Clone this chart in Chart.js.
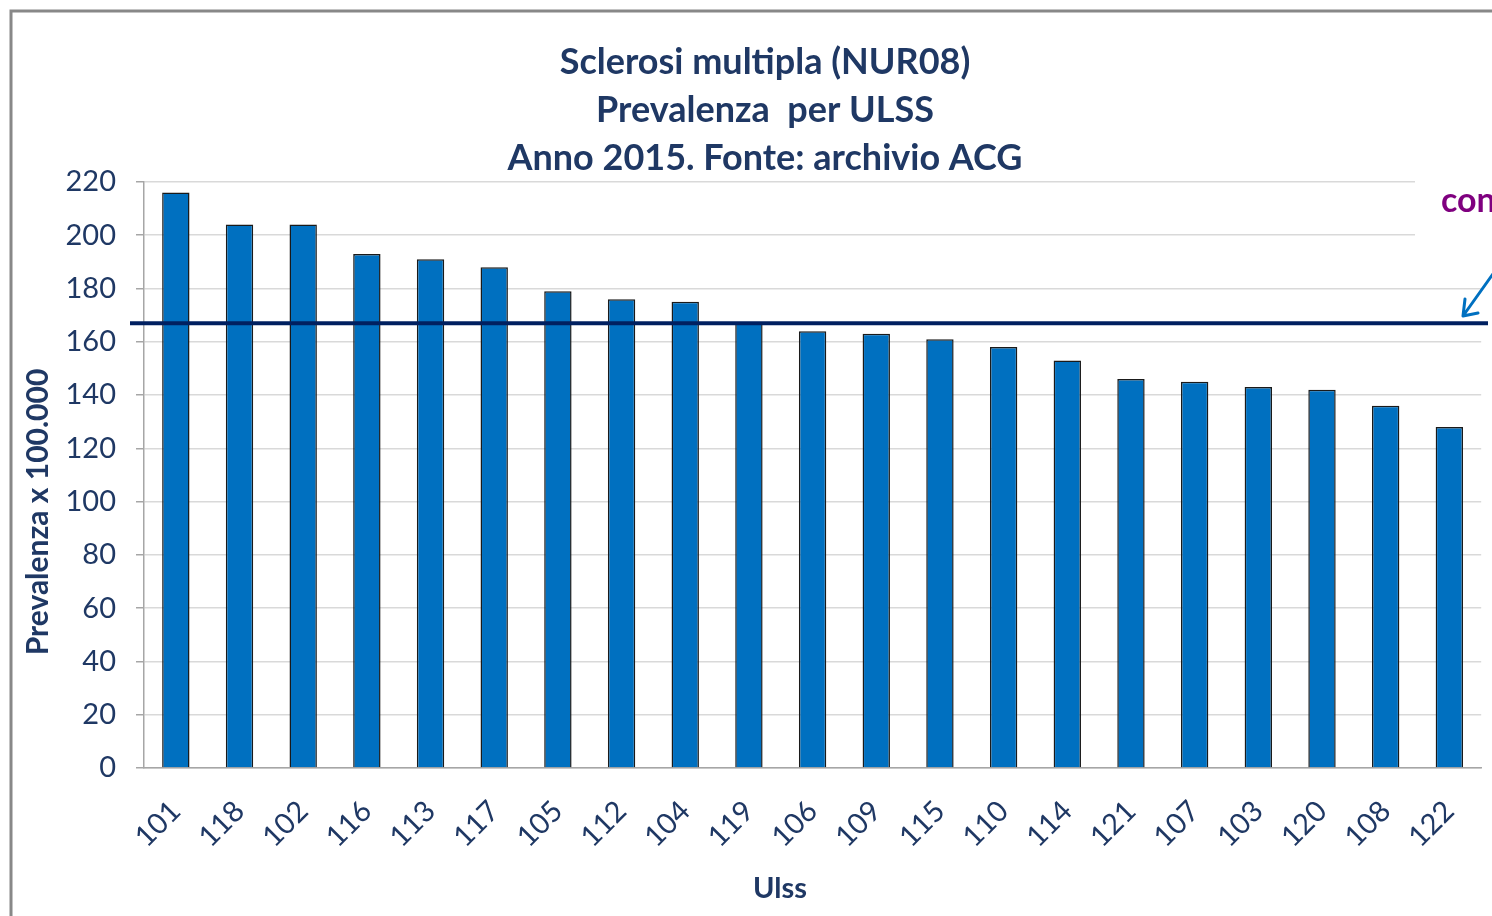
<!DOCTYPE html>
<html>
<head>
<meta charset="utf-8">
<script src="https://cdn.jsdelivr.net/npm/chart.js@4.4.1/dist/chart.umd.min.js"></script>
<style>
  body { margin: 0; background: #ffffff; }
  canvas { display: block; }
</style>
</head>
<body>
<canvas id="myChart" width="1492" height="916"></canvas>
<script>
// dati: prevalenza sclerosi multipla per ULSS
const ulss = ['101', '118', '102', '116', '113', '117', '105', '112', '104', '119', '106',
  '109', '115', '110', '114', '121', '107', '103', '120', '108', '122'];
const prevalenza = [216, 204, 204, 193, 191, 188, 179, 176, 175, 167, 164,
  163, 161, 158, 153, 146, 145, 143, 142, 136, 128];
const mediaRegione = 167;
const yTicks = [0, 20, 40, 60, 80, 100, 120, 140, 160, 180, 200, 220];
const titolo = ['Sclerosi multipla (NUR08)', 'Prevalenza  per ULSS', 'Anno 2015. Fonte: archivio ACG'];

const navy = '#1F3864';
const font = 'Lato';

// Cornice, linea di riferimento, freccia e titoli degli assi
const extras = {
  id: 'extras',
  afterDatasetsDraw(chart) {
    const ctx = chart.ctx;
    const y = chart.scales.y.getPixelForValue(mediaRegione);
    ctx.save();
    ctx.strokeStyle = '#002060';
    ctx.lineWidth = 4;
    ctx.beginPath();
    ctx.moveTo(130, y);
    ctx.lineTo(1488, y);
    ctx.stroke();
    ctx.restore();
  },
  afterDraw(chart) {
    const ctx = chart.ctx;
    ctx.save();
    // cornice
    ctx.strokeStyle = '#888888';
    ctx.lineWidth = 3;
    ctx.beginPath();
    ctx.moveTo(11, 916);
    ctx.lineTo(11, 11);
    ctx.lineTo(1492, 11);
    ctx.stroke();

    // casella di testo tagliata
    ctx.fillStyle = '#ffffff';
    ctx.fillRect(1415, 172, 77, 90);
    ctx.fillStyle = '#7F007F';
    ctx.font = 'bold 34px ' + font;
    ctx.textAlign = 'left';
    ctx.textBaseline = 'alphabetic';
    ctx.fillText('con', 1441, 212);

    // freccia
    ctx.strokeStyle = '#0070C0';
    ctx.lineWidth = 3;
    ctx.lineCap = 'round';
    ctx.beginPath();
    ctx.moveTo(1500, 264);
    ctx.lineTo(1463, 316);
    ctx.moveTo(1463, 316);
    ctx.lineTo(1465, 299);
    ctx.moveTo(1463, 316);
    ctx.lineTo(1478, 313);
    ctx.stroke();

    // titoli assi
    ctx.fillStyle = navy;
    ctx.textAlign = 'center';
    ctx.textBaseline = 'middle';
    ctx.font = 'bold 29px ' + font;
    ctx.fillText('Ulss', 780, 889);
    ctx.font = 'bold 30px ' + font;
    ctx.translate(38, 512);
    ctx.rotate(-Math.PI / 2);
    ctx.fillText('Prevalenza x 100.000', 0, 0);
    ctx.restore();
  }
};

const data = {
  labels: ulss,
  datasets: [
    {
      label: 'Prevalenza x 100.000',
      backgroundColor: '#0070C0',
      borderColor: '#1a1a1a',
      borderWidth: 1.5,
      data: prevalenza,
      barPercentage: 0.43,
      categoryPercentage: 1,
    },
  ],
};

const config = {
  type: 'bar',
  data: data,
  options: {
    responsive: false,
    animation: false,
    layout: { padding: { top: 0, left: 40, right: 2, bottom: 0 } },
    plugins: {
      legend: { display: false },
      tooltip: { enabled: false },
      title: {
        display: true,
        text: titolo,
        color: navy,
        font: { family: font, size: 36, weight: 'bold', lineHeight: 1.333 },
        padding: { top: 38, bottom: 0 },
      },
    },
    scales: {
      x: {
        grid: { display: false },
        border: { display: true, color: '#A6A6A6', width: 1.5 },
        ticks: {
          color: navy,
          font: { family: font, size: 29 },
          minRotation: 45,
          maxRotation: 45,
          padding: 18,
        },
        afterFit(scale) { scale.height = 148; },
      },
      y: {
        min: 0,
        max: 220,
        afterBuildTicks(scale) { scale.ticks = yTicks.map(v => ({ value: v })); },
        grid: { color: '#D9D9D9', lineWidth: 1.5, tickLength: 8, tickColor: '#A6A6A6' },
        border: { display: true, color: '#A6A6A6', width: 1.5 },
        ticks: {
          color: navy,
          font: { family: font, size: 29 },
          padding: 20,
        },
        afterFit(scale) { scale.width = 104; },
      },
    },
  },
  plugins: [extras],
};

const myChart = new Chart(document.getElementById('myChart'), config);
</script>
</body>
</html>
